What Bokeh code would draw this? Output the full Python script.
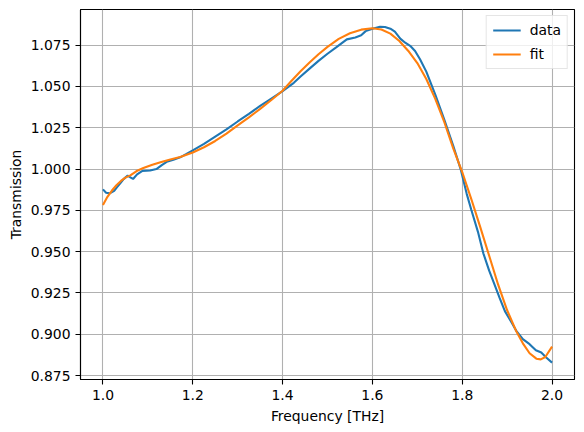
from bokeh.plotting import figure
from bokeh.models import Range1d, FixedTicker, PrintfTickFormatter, ColumnDataSource
from bokeh.embed import file_html
from bokeh.resources import INLINE

# --- data ---
data_freq = [1.000, 1.007, 1.015, 1.025, 1.031, 1.038, 1.046, 1.055, 1.061, 1.067,
             1.076, 1.087, 1.097, 1.105, 1.119, 1.131, 1.142, 1.157, 1.172, 1.185,
             1.200, 1.225, 1.250, 1.275, 1.300, 1.325, 1.350, 1.375, 1.400, 1.425,
             1.440, 1.460, 1.480, 1.500, 1.520, 1.543, 1.562, 1.575, 1.585, 1.600,
             1.617, 1.628, 1.640, 1.650, 1.662, 1.673, 1.684, 1.695, 1.706, 1.720,
             1.740, 1.760, 1.780, 1.797, 1.810, 1.820, 1.835, 1.847, 1.860, 1.872,
             1.883, 1.895, 1.908, 1.920, 1.935, 1.950, 1.964, 1.976, 1.987, 2.000]
data_trans = [0.9877, 0.9857, 0.9853, 0.9868, 0.9889, 0.9912, 0.9939, 0.9960, 0.9950, 0.9940,
              0.9968, 0.9988, 0.9990, 0.9991, 1.0000, 1.0024, 1.0044, 1.0057, 1.0071, 1.0090,
              1.0113, 1.0152, 1.0196, 1.0240, 1.0288, 1.0334, 1.0382, 1.0427, 1.0472, 1.0522,
              1.0560, 1.0608, 1.0655, 1.0698, 1.0738, 1.0785, 1.0797, 1.0810, 1.0835, 1.0850,
              1.0861, 1.0860, 1.0850, 1.0832, 1.0790, 1.0765, 1.0746, 1.0715, 1.0665, 1.0590,
              1.0450, 1.0300, 1.0140, 0.9995, 0.9850, 0.9755, 0.9620, 0.9490, 0.9385, 0.9300,
              0.9222, 0.9140, 0.9080, 0.9022, 0.8970, 0.8940, 0.8903, 0.8889, 0.8859, 0.8828]

fit_freq = [1.000, 1.010, 1.020, 1.030, 1.040, 1.050, 1.061, 1.075, 1.090, 1.110,
            1.130, 1.150, 1.172, 1.200, 1.225, 1.250, 1.275, 1.300, 1.325, 1.350,
            1.375, 1.400, 1.420, 1.440, 1.460, 1.480, 1.500, 1.525, 1.550, 1.575,
            1.600, 1.620, 1.640, 1.660, 1.680, 1.700, 1.720, 1.740, 1.760, 1.780,
            1.800, 1.820, 1.840, 1.860, 1.880, 1.900, 1.920, 1.935, 1.950, 1.965,
            1.975, 1.985, 2.000]
fit_trans = [0.9782, 0.9832, 0.9870, 0.9902, 0.9928, 0.9948, 0.9962, 0.9988, 1.0006, 1.0026,
             1.0043, 1.0058, 1.0073, 1.0100, 1.0132, 1.0170, 1.0215, 1.0265, 1.0313, 1.0364,
             1.0418, 1.0474, 1.0535, 1.0592, 1.0645, 1.0695, 1.0740, 1.0788, 1.0822, 1.0844,
             1.0852, 1.0845, 1.0820, 1.0775, 1.0715, 1.0642, 1.0545, 1.0425, 1.0285, 1.0125,
             0.9982, 0.9820, 0.9650, 0.9475, 0.9300, 0.9145, 0.9020, 0.8945, 0.8885, 0.8852,
             0.8848, 0.8862, 0.8925]

x_ticks = [1.0, 1.2, 1.4, 1.6, 1.8, 2.0]
y_ticks = [0.875, 0.900, 0.925, 0.950, 0.975, 1.000, 1.025, 1.050, 1.075]

FONT = "DejaVu Sans"
FS = "13.9px"

p = figure(width=584, height=432, output_backend="svg", toolbar_location=None,
           x_range=Range1d(0.95, 2.05), y_range=Range1d(0.8726, 1.0966),
           min_border_left=80, min_border_right=10, min_border_top=9, min_border_bottom=53)

p.background_fill_color = "white"
p.border_fill_color = "white"
p.outline_line_color = "black"
p.outline_line_width = 1.1

src_data = ColumnDataSource(dict(x=data_freq, y=data_trans))
src_fit = ColumnDataSource(dict(x=fit_freq, y=fit_trans))

p.line("x", "y", source=src_data, line_color="#1f77b4", line_width=2.1, legend_label="data")
p.line("x", "y", source=src_fit, line_color="#ff7f0e", line_width=2.1, legend_label="fit")

p.xaxis.ticker = FixedTicker(ticks=x_ticks)
p.yaxis.ticker = FixedTicker(ticks=y_ticks)
p.xaxis.formatter = PrintfTickFormatter(format="%.1f")
p.yaxis.formatter = PrintfTickFormatter(format="%.3f")

p.xaxis.axis_label = "Frequency [THz]"
p.yaxis.axis_label = "Transmission"

for ax in (p.xaxis, p.yaxis):
    ax.axis_label_text_font = FONT
    ax.axis_label_text_font_size = FS
    ax.axis_label_text_font_style = "normal"
    ax.axis_label_text_color = "black"
    ax.major_label_text_font = FONT
    ax.major_label_text_font_size = FS
    ax.major_label_text_color = "black"
    ax.major_tick_out = 5
    ax.major_tick_in = 0
    ax.minor_tick_out = 0
    ax.minor_tick_in = 0
    ax.major_tick_line_color = "black"
    ax.major_tick_line_width = 1.1
    ax.axis_line_color = "black"
    ax.axis_line_width = 1.1
    ax.major_label_standoff = 5

p.xaxis.axis_label_standoff = 5
p.yaxis.axis_label_standoff = 4

p.grid.grid_line_color = "#b0b0b0"
p.grid.grid_line_width = 1.1

lg = p.legend[0]
lg.location = "top_right"
lg.margin = 6
lg.padding = 6
lg.spacing = 8
lg.glyph_width = 28
lg.glyph_height = 14
lg.label_height = 14
lg.label_standoff = 9
lg.label_text_font = FONT
lg.label_text_font_size = FS
lg.label_text_color = "black"
lg.border_line_color = "#cccccc"
lg.border_line_width = 1
lg.background_fill_color = "white"
lg.background_fill_alpha = 0.8

open("out.html", "w").write(file_html(p, INLINE))
